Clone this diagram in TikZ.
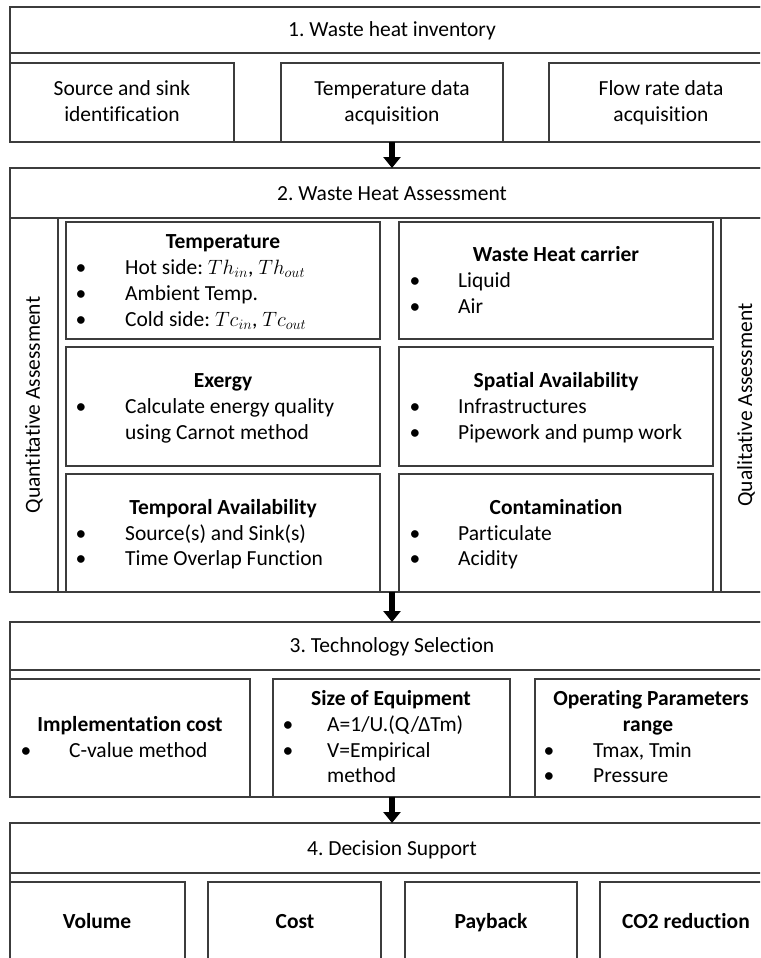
\documentclass[tikz,border=0pt]{standalone}
\usepackage{fontspec}
\setmainfont[Ligatures={NoCommon}]{Carlito}
\usetikzlibrary{arrows.meta}
\definecolor{lc}{RGB}{60,60,60}
\tikzset{
  frame/.style={draw=lc, line width=1.4pt, fill=white, inner sep=0pt, outer sep=0pt, anchor=north west},
  lbl/.style={anchor=base, inner sep=0pt},
  ttl/.style={anchor=base, inner sep=0pt, font=\fontsize{21.5}{26}\selectfont\bfseries},
  itm/.style={anchor=base west, inner sep=0pt},
  bul/.style={anchor=base, inner sep=0pt},
  side/.style={rotate=90, anchor=center, inner sep=0pt},
  bigarrow/.style={line width=6pt, -{Triangle[width=17pt,length=11pt]}, black}
}
\newcommand\mybox[5]{\node[frame, minimum width=#4pt, minimum height=#5pt] (#1) at (#2,#3) {};}
\frenchspacing
\begin{document}
\begin{tikzpicture}[x=1pt,y=-1pt, font=\fontsize{21.5}{26}\selectfont]
\useasboundingbox (0,0) rectangle (760,958);
\clip (0,0) rectangle (760,958);
\fill[white] (0,0) rectangle (760,958);

% ---------- Section 1
\mybox{s1}{10}{7}{764}{135}
\mybox{h1}{10}{7}{764}{46}
\mybox{b1a}{10}{63}{224}{79}
\mybox{b1b}{281}{63}{222}{79}
\mybox{b1c}{549}{63}{224}{79}
\node[lbl] (h1t) at (392,37) {1. Waste heat inventory};
\node[lbl] (b1a1) at (122,95) {Source and sink};
\node[lbl] (b1a2) at (122,121) {identification};
\node[lbl] (b1b1) at (392,95) {Temperature data};
\node[lbl] (b1b2) at (392,121) {acquisition};
\node[lbl] (b1c1) at (661,95) {Flow rate data};
\node[lbl] (b1c2) at (661,121) {acquisition};

% ---------- Section 2
\mybox{s2}{10}{168}{764}{424}
\mybox{h2}{10}{168}{764}{50}
\mybox{qL}{10}{218}{48}{374}
\mybox{qR}{721}{218}{53}{374}
\mybox{t1}{66}{222}{314}{117}
\mybox{t2}{66}{347}{314}{119}
\mybox{t3}{66}{474}{314}{118}
\mybox{r1}{399}{222}{314}{117}
\mybox{r2}{399}{347}{314}{119}
\mybox{r3}{399}{474}{314}{118}
\node[lbl] (h2t) at (392,200) {2. Waste Heat Assessment};
\node[side] (qLt) at (34,405) {Quantitative Assessment};
\node[side] (qRt) at (746,405) {Qualitative Assessment};

\node[ttl] (t1h) at (223,248.5) {Temperature};
\node[bul] (t1b1) at (81,274.5) {•};
\node[itm] (t1i1) at (125,274.5) {Hot side: $Th_{in}$, $Th_{out}$};
\node[bul] (t1b2) at (81,300.5) {•};
\node[itm] (t1i2) at (125,300.5) {Ambient Temp.};
\node[bul] (t1b3) at (81,326.5) {•};
\node[itm] (t1i3) at (125,326.5) {Cold side: $Tc_{in}$, $Tc_{out}$};

\node[ttl] (t2h) at (223,387.5) {Exergy};
\node[bul] (t2b1) at (81,413.5) {•};
\node[itm] (t2i1) at (125,413.5) {Calculate energy quality};
\node[itm] (t2i2) at (125,439) {using Carnot method};

\node[ttl] (t3h) at (223,514) {Temporal Availability};
\node[bul] (t3b1) at (81,540) {•};
\node[itm] (t3i1) at (125,540) {Source(s) and Sink(s)};
\node[bul] (t3b2) at (81,565.5) {•};
\node[itm] (t3i2) at (125,565.5) {Time Overlap Function};

\node[ttl] (r1h) at (556,261.5) {Waste Heat carrier};
\node[bul] (r1b1) at (415,287.5) {•};
\node[itm] (r1i1) at (458,287.5) {Liquid};
\node[bul] (r1b2) at (415,313.5) {•};
\node[itm] (r1i2) at (458,313.5) {Air};

\node[ttl] (r2h) at (556,387.5) {Spatial Availability};
\node[bul] (r2b1) at (415,413.5) {•};
\node[itm] (r2i1) at (458,413.5) {Infrastructures};
\node[bul] (r2b2) at (415,439) {•};
\node[itm] (r2i2) at (458,439) {Pipework and pump work};

\node[ttl] (r3h) at (556,514) {Contamination};
\node[bul] (r3b1) at (415,540) {•};
\node[itm] (r3i1) at (458,540) {Particulate};
\node[bul] (r3b2) at (415,565.5) {•};
\node[itm] (r3i2) at (458,565.5) {Acidity};

% ---------- Section 3
\mybox{s3}{10}{622}{764}{175}
\mybox{h3}{10}{622}{764}{48}
\mybox{c1}{10}{679}{240}{118}
\mybox{c2}{273}{679}{237}{118}
\mybox{c3}{535}{679}{230}{118}
\node[lbl] (h3t) at (392,652.5) {3. Technology Selection};

\node[ttl] (c1h) at (130,731.5) {Implementation cost};
\node[bul] (c1b1) at (26,757.5) {•};
\node[itm] (c1i1) at (69,757.5) {C-value method};

\node[ttl] (c2h) at (391,705.5) {Size of Equipment};
\node[bul] (c2b1) at (288,731.5) {•};
\node[itm] (c2i1) at (327,731.5) {A=1/U.(Q/ΔTm)};
\node[bul] (c2b2) at (288,757.5) {•};
\node[itm] (c2i2) at (327,757.5) {V=Empirical};
\node[itm] (c2i3) at (327,782.5) {method};

\node[ttl] (c3h) at (651,705.5) {Operating Parameters};
\node[ttl] (c3h2) at (648,731.5) {range};
\node[bul] (c3b1) at (549,757.5) {•};
\node[itm] (c3i1) at (593,757.5) {Tmax, Tmin};
\node[bul] (c3b2) at (549,782.5) {•};
\node[itm] (c3i2) at (593,782.5) {Pressure};

% ---------- Section 4
\mybox{s4}{10}{823}{764}{160}
\mybox{h4}{10}{823}{764}{50}
\mybox{d1}{10}{882}{175}{100}
\mybox{d2}{208}{882}{173}{100}
\mybox{d3}{405}{882}{172}{100}
\mybox{d4}{600}{882}{175}{100}
\node[lbl] (h4t) at (392,855) {4. Decision Support};
\node[ttl] (d1t) at (97,928.5) {Volume};
\node[ttl] (d2t) at (295,928.5) {Cost};
\node[ttl] (d3t) at (491,928.5) {Payback};
\node[ttl] (d4t) at (686,928.5) {CO2 reduction};

% ---------- Arrows
\draw[bigarrow] (s1.south) -- (s2.north);
\draw[bigarrow] (s2.south) -- (s3.north);
\draw[bigarrow] (s3.south) -- (s4.north);
\end{tikzpicture}
\end{document}
